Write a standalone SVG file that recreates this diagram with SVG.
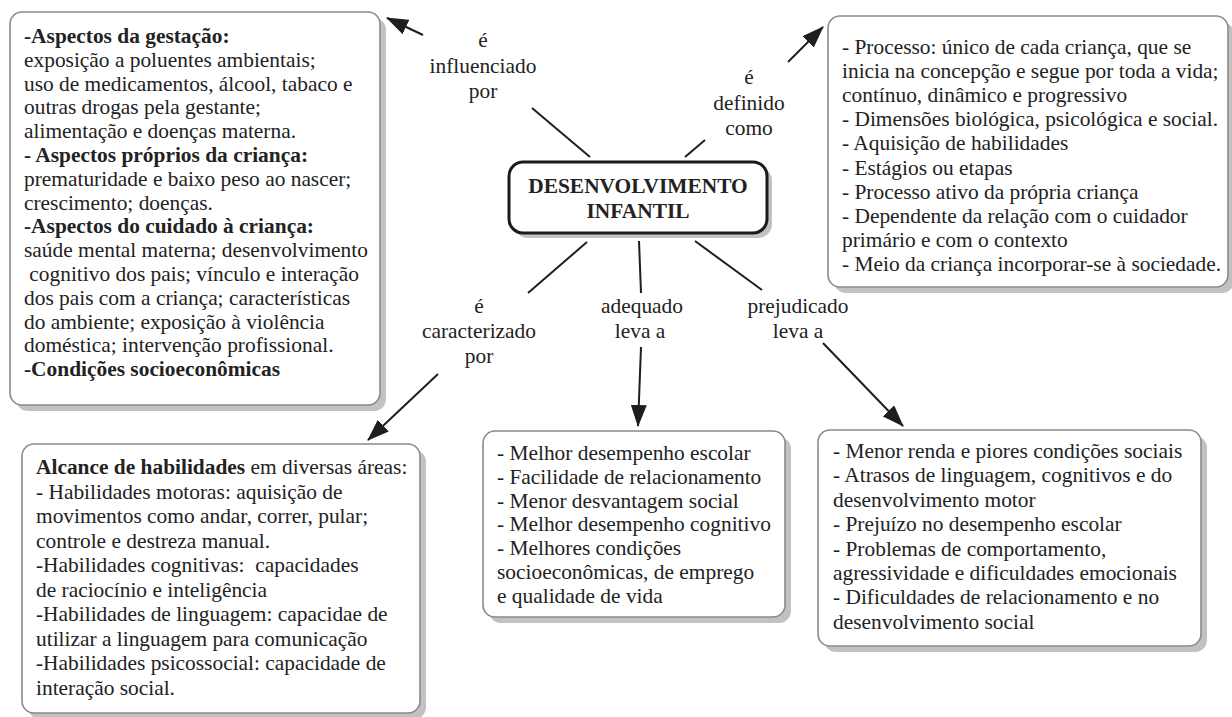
<svg xmlns="http://www.w3.org/2000/svg" width="1232" height="717" viewBox="0 0 1232 717">
<defs>
<style>
.t{font-family:"Liberation Serif","Times New Roman",serif;font-size:21.4px;fill:#222;white-space:pre}
.b{font-weight:bold}
.c{text-anchor:middle}
.box{fill:#fff;stroke:#8a8a8a;stroke-width:1.6}
.sh{fill:#c2c2c2}
.ln{stroke:#1e1e1e;stroke-width:2;fill:none}
.ar{stroke:#1e1e1e;stroke-width:2;fill:none;marker-end:url(#ah)}
</style>
<marker id="ah" markerUnits="userSpaceOnUse" markerWidth="22" markerHeight="16" refX="21" refY="8" orient="auto">
<path d="M0,0 L22,8 L0,16 z" fill="#1e1e1e"/>
</marker>
</defs>
<rect width="1232" height="717" fill="#fff"/>

<g id="connectors">
<line class="ln" x1="532" y1="108" x2="590" y2="157"/>
<line class="ar" x1="423" y1="35" x2="387" y2="18"/>
<line class="ln" x1="685" y1="157" x2="705" y2="140"/>
<line class="ar" x1="788" y1="62" x2="823" y2="27"/>
<line class="ln" x1="587" y1="242" x2="528" y2="293"/>
<line class="ar" x1="438" y1="374" x2="368" y2="440"/>
<line class="ln" x1="639" y1="241" x2="641" y2="293"/>
<line class="ar" x1="641" y1="347" x2="638" y2="426"/>
<line class="ln" x1="695" y1="241" x2="762" y2="290"/>
<line class="ar" x1="823" y1="343" x2="903" y2="426"/>
<text class="t c" x="483" y="47">é</text>
<text class="t c" x="483" y="73">influenciado</text>
<text class="t c" x="483" y="98">por</text>
<text class="t c" x="749" y="84">é</text>
<text class="t c" x="749" y="110">definido</text>
<text class="t c" x="749" y="135">como</text>
<text class="t c" x="479" y="313">é</text>
<text class="t c" x="479" y="338">caracterizado</text>
<text class="t c" x="479" y="363">por</text>
<text class="t c" x="642" y="313">adequado</text>
<text class="t c" x="640" y="338">leva a</text>
<text class="t c" x="798" y="313">prejudicado</text>
<text class="t c" x="798" y="338">leva a</text>
</g>

<g id="center">
<rect class="sh" x="514" y="167" width="258" height="71" rx="14"/>
<rect x="509" y="162" width="258" height="71" rx="14" fill="#fff" stroke="#1a1a1a" stroke-width="3"/>
<text class="t b c" x="638" y="193">DESENVOLVIMENTO</text>
<text class="t b c" x="638" y="218">INFANTIL</text>
</g>

<g id="influences">
<rect class="sh" x="16" y="18" width="370" height="393" rx="12"/>
<rect class="box" x="10" y="12" width="370" height="393" rx="12"/>
<text class="t b" x="24" y="43">-Aspectos da gestação:</text>
<text class="t" x="24" y="66.8">exposição a poluentes ambientais;</text>
<text class="t" x="24" y="90.6">uso de medicamentos, álcool, tabaco e</text>
<text class="t" x="24" y="114.4">outras drogas pela gestante;</text>
<text class="t" x="24" y="138.2">alimentação e doenças materna.</text>
<text class="t b" x="24" y="162">- Aspectos próprios da criança:</text>
<text class="t" x="24" y="185.8">prematuridade e baixo peso ao nascer;</text>
<text class="t" x="24" y="209.6">crescimento; doenças.</text>
<text class="t b" x="24" y="233.4">-Aspectos do cuidado à criança:</text>
<text class="t" x="24" y="257.2">saúde mental materna; desenvolvimento</text>
<text class="t" x="24" y="281"> cognitivo dos pais; vínculo e interação</text>
<text class="t" x="24" y="304.8">dos pais com a criança; características</text>
<text class="t" x="24" y="328.6">do ambiente; exposição à violência</text>
<text class="t" x="24" y="352.4">doméstica; intervenção profissional.</text>
<text class="t b" x="24" y="376.2">-Condições socioeconômicas</text>
</g>

<g id="definition">
<rect class="sh" x="834" y="22" width="400" height="271" rx="12"/>
<rect class="box" x="828" y="16" width="400" height="271" rx="12"/>
<text class="t" x="842" y="53.5">- Processo: único de cada criança, que se</text>
<text class="t" x="842" y="77.7">inicia na concepção e segue por toda a vida;</text>
<text class="t" x="842" y="101.9">contínuo, dinâmico e progressivo</text>
<text class="t" x="842" y="126.1">- Dimensões biológica, psicológica e social.</text>
<text class="t" x="842" y="150.3">- Aquisição de habilidades</text>
<text class="t" x="842" y="174.5">- Estágios ou etapas</text>
<text class="t" x="842" y="198.7">- Processo ativo da própria criança</text>
<text class="t" x="842" y="222.9">- Dependente da relação com o cuidador</text>
<text class="t" x="842" y="247.1">primário e com o contexto</text>
<text class="t" x="842" y="271.3">- Meio da criança incorporar-se à sociedade.</text>
</g>

<g id="characterized">
<rect class="sh" x="28" y="450" width="398" height="269" rx="12"/>
<rect class="box" x="22" y="444" width="398" height="269" rx="12"/>
<text class="t" x="36" y="474"><tspan class="b">Alcance de habilidades</tspan> em diversas áreas:</text>
<text class="t" x="36" y="498.5">- Habilidades motoras: aquisição de</text>
<text class="t" x="36" y="523">movimentos como andar, correr, pular;</text>
<text class="t" x="36" y="547.5">controle e destreza manual.</text>
<text class="t" x="36" y="572">-Habilidades cognitivas:  capacidades</text>
<text class="t" x="36" y="596.5">de raciocínio e inteligência</text>
<text class="t" x="36" y="621">-Habilidades de linguagem: capacidae de</text>
<text class="t" x="36" y="645.5">utilizar a linguagem para comunicação</text>
<text class="t" x="36" y="670">-Habilidades psicossocial: capacidade de</text>
<text class="t" x="36" y="694.5">interação social.</text>
</g>

<g id="adequate">
<rect class="sh" x="489" y="437" width="302" height="186" rx="12"/>
<rect class="box" x="483" y="431" width="302" height="186" rx="12"/>
<text class="t" x="497" y="460">- Melhor desempenho escolar</text>
<text class="t" x="497" y="483.8">- Facilidade de relacionamento</text>
<text class="t" x="497" y="507.6">- Menor desvantagem social</text>
<text class="t" x="497" y="531.4">- Melhor desempenho cognitivo</text>
<text class="t" x="497" y="555.2">- Melhores condições</text>
<text class="t" x="497" y="579">socioeconômicas, de emprego</text>
<text class="t" x="497" y="602.8">e qualidade de vida</text>
</g>

<g id="impaired">
<rect class="sh" x="824" y="436" width="383" height="216" rx="12"/>
<rect class="box" x="818" y="430" width="383" height="216" rx="12"/>
<text class="t" x="833" y="458">- Menor renda e piores condições sociais</text>
<text class="t" x="833" y="482.4">- Atrasos de linguagem, cognitivos e do</text>
<text class="t" x="833" y="506.8">desenvolvimento motor</text>
<text class="t" x="833" y="531.2">- Prejuízo no desempenho escolar</text>
<text class="t" x="833" y="555.6">- Problemas de comportamento,</text>
<text class="t" x="833" y="580">agressividade e dificuldades emocionais</text>
<text class="t" x="833" y="604.4">- Dificuldades de relacionamento e no</text>
<text class="t" x="833" y="628.8">desenvolvimento social</text>
</g>
</svg>
